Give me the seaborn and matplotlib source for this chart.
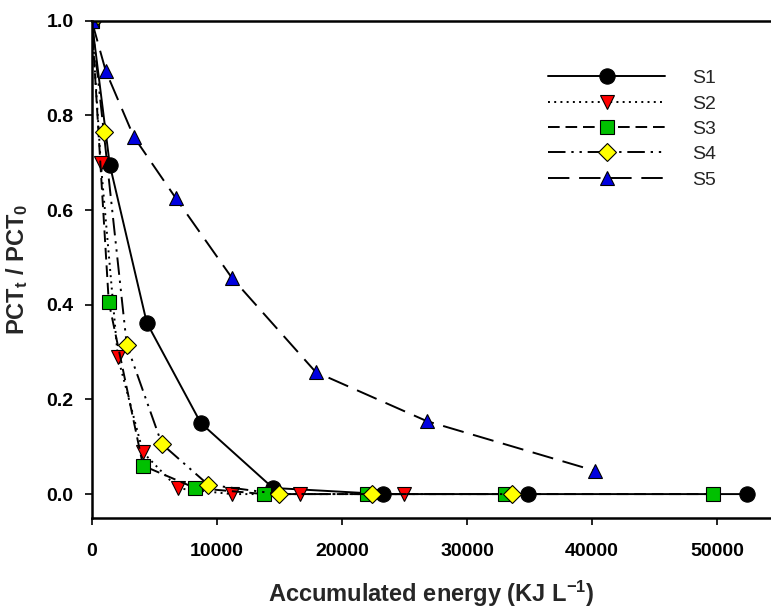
import matplotlib
matplotlib.use("Agg")
import matplotlib.pyplot as plt
import seaborn as sns
import pandas as pd

# ---- data ----
s1_x = [0, 1440, 4400, 8720, 14480, 23300, 34900, 52400]
s1_y = [1.0, 0.696, 0.362, 0.150, 0.013, 0.0, 0.0, 0.0]
s2_x = [0, 720, 2080, 4100, 6900, 11200, 16650, 25000]
s2_y = [1.0, 0.70, 0.29, 0.088, 0.012, 0.0, 0.0, 0.0]
s3_x = [0, 1360, 4100, 8250, 13800, 22000, 33000, 49700]
s3_y = [1.0, 0.406, 0.060, 0.013, 0.0, 0.0, 0.0, 0.0]
s4_x = [0, 960, 2800, 5600, 9300, 14950, 22400, 33600]
s4_y = [1.0, 0.765, 0.315, 0.106, 0.020, 0.0, 0.0, 0.0]
s5_x = [0, 1120, 3360, 6700, 11200, 17900, 26800, 40250]
s5_y = [1.0, 0.894, 0.755, 0.626, 0.457, 0.258, 0.154, 0.049]
series_names = ["S1", "S2", "S3", "S4", "S5"]
x_ticks = [0, 10000, 20000, 30000, 40000, 50000]
y_ticks = [0.0, 0.2, 0.4, 0.6, 0.8, 1.0]

sns.set_theme(style="white")
plt.rcParams["font.family"] = ["Liberation Sans", "DejaVu Sans"]
plt.rcParams["mathtext.default"] = "regular"

fig = plt.figure(figsize=(7.71, 6.12), dpi=100)
ax = fig.add_axes([0.119, 0.154, 0.881, 0.812])

styles = {
    "S1": dict(marker="o", mfc="black", ls="-"),
    "S2": dict(marker="v", mfc="#FF0000", ls=(0, (1.0, 2.2))),
    "S3": dict(marker="s", mfc="#00C000", ls=(0, (6, 3))),
    "S4": dict(marker="D", mfc="#FFFF00", ls=(0, (9, 3, 1.2, 3, 1.2, 3))),
    "S5": dict(marker="^", mfc="#0000E0", ls=(0, (11, 5))),
}
msize = {"S1": 11, "S2": 10, "S3": 9.5, "S4": 9, "S5": 10.5}
data = {"S1": (s1_x, s1_y), "S2": (s2_x, s2_y), "S3": (s3_x, s3_y),
        "S4": (s4_x, s4_y), "S5": (s5_x, s5_y)}

for name in series_names:
    xs, ys = data[name]
    df = pd.DataFrame({"x": xs, "y": ys})
    st = styles[name]
    sns.lineplot(data=df, x="x", y="y", ax=ax, estimator=None, sort=False,
                 color="black", linewidth=1.4, linestyle=st["ls"],
                 marker=st["marker"], markersize=msize[name],
                 markerfacecolor=st["mfc"], markeredgecolor="black",
                 markeredgewidth=0.8, label=name)

ax.set_xlim(0, 54300)
ax.set_ylim(-0.05, 1.0)
ax.set_xticks(x_ticks)
ax.set_yticks(y_ticks)
ax.set_xticklabels([str(t) for t in x_ticks], fontsize=14, fontweight="bold")
ax.set_yticklabels([f"{t:.1f}" for t in y_ticks], fontsize=14, fontweight="bold")
ax.tick_params(axis="x", direction="out", length=5, width=1.2,
               bottom=True, pad=13, colors="black")
ax.tick_params(axis="y", direction="out", length=5, width=1.2,
               left=True, pad=8, colors="black")

for side in ["left", "bottom", "top"]:
    ax.spines[side].set_visible(True)
    ax.spines[side].set_color("black")
    ax.spines[side].set_linewidth(1.8)
ax.spines["right"].set_visible(False)

ax.set_xlabel("Accumulated energy (KJ L$^{-1}$)", fontsize=17, fontweight="bold",
              labelpad=14)
ax.set_ylabel("PCT$_t$ / PCT$_0$", fontsize=17, fontweight="bold", labelpad=12)

leg = ax.legend(loc="upper left", bbox_to_anchor=(0.672, 0.902), frameon=False,
                fontsize=14, handlelength=6.0, handletextpad=1.4,
                labelspacing=0.4, borderpad=0, borderaxespad=0)

fig.savefig("out.png", dpi=100)
